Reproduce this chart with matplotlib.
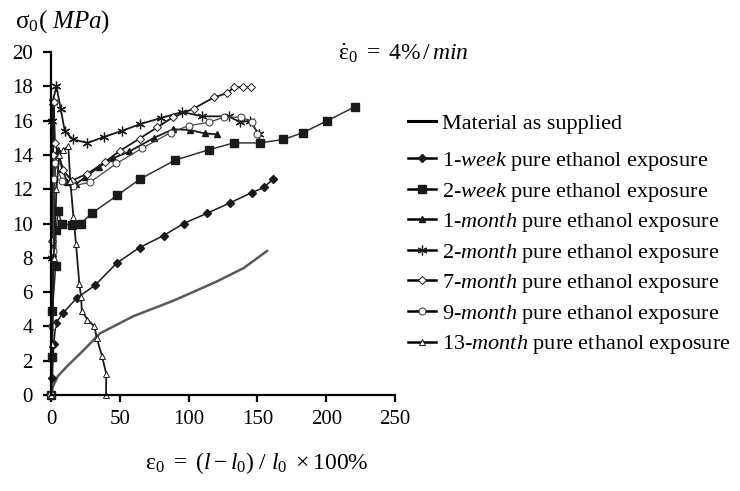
import matplotlib
matplotlib.use('Agg')
from matplotlib import pyplot as plt

plt.rcParams['font.family'] = ['Liberation Serif', 'DejaVu Serif']
plt.rcParams['mathtext.fontset'] = 'custom'
plt.rcParams['mathtext.rm'] = 'Liberation Serif'
plt.rcParams['mathtext.it'] = 'Liberation Serif:italic'
plt.rcParams['font.size'] = 15

# strain (%) / stress (MPa) readings for each exposure time
supplied_x = [0, 1.5, 5, 11.4, 23.5, 35.7, 60, 89, 120, 140, 157]
supplied_y = [0, 0.5, 1.1, 1.65, 2.6, 3.6, 4.6, 5.5, 6.6, 7.4, 8.4]

week1_x = [0, 1, 2, 3.6, 9, 18.7, 32, 47.9, 64.4, 81.9, 96.4, 113.5, 130, 145.8, 154.8, 161.3]
week1_y = [0, 1.0, 3.0, 4.2, 4.8, 5.65, 6.4, 7.7, 8.6, 9.3, 10.0, 10.6, 11.2, 11.8, 12.1, 12.6]

week2_x = [0, 1, 1, 3.4, 3.6, 5.3, 7.8, 15, 21.6, 29.7, 48.3, 64.9, 90.4, 114.7,
           132.9, 151.6, 168.9, 183.2, 200.9, 220.8]
week2_y = [0, 2.2, 4.9, 7.5, 9.6, 10.7, 10.0, 9.9, 10.0, 10.6, 11.65, 12.6, 13.7, 14.3,
           14.7, 14.7, 14.9, 15.3, 16.0, 16.8]

month1_x = [0, 1, 2, 3, 5, 8, 12, 18, 25, 35, 45, 57, 75, 89, 101, 112, 121]
month1_y = [0, 5, 10, 13.5, 14.3, 13.2, 12.4, 12.3, 12.7, 13.3, 13.8, 14.2, 15.0, 15.5,
            15.45, 15.25, 15.2]

month2_x = [0, 0.5, 1, 1.2, 4, 7, 10, 16, 26.5, 38.6, 51.5, 64.9, 79.8, 95.3, 110,
            129.2, 137.5, 144.5, 151]
month2_y = [0, 8, 16, 17.1, 18.0, 16.7, 15.4, 14.9, 14.7, 15.05, 15.4, 15.8, 16.15, 16.5,
            16.25, 16.25, 15.9, 16.0, 15.2]

month7_x = [0, 0.5, 1, 1.5, 2, 2.9, 9, 15, 26.5, 39.4, 50.3, 64.4, 77, 88.7, 103.7,
            118.3, 128, 132.9, 139.7, 145.5]
month7_y = [0, 4, 9, 14, 17.1, 14.7, 13.1, 12.5, 12.9, 13.6, 14.25, 14.95, 15.6, 16.2,
            16.7, 17.35, 17.6, 17.95, 17.95, 17.95]

month9_x = [0, 1, 1.7, 2.2, 2.9, 8, 16.3, 28.4, 47.6, 66.4, 87, 100, 114.7, 126, 138.3,
            146.3, 150]
month9_y = [0, 4.0, 8.4, 12.6, 13.5, 12.5, 12.2, 12.4, 13.5, 14.4, 15.3, 15.7, 15.9, 16.2,
            16.2, 15.9, 15.2]

month13_x = [0, 1, 2, 4, 6, 9, 12.6, 14, 16.3, 18.2, 20.6, 21.9, 22.4, 26.5, 31.6, 33.3,
             37, 40.1, 40]
month13_y = [0, 3, 8, 12, 14, 14.3, 14.5, 12.5, 10.4, 8.8, 6.5, 5.7, 4.9, 4.4, 4.0, 3.3,
             2.3, 1.25, 0]

x_ticks = [0, 50, 100, 150, 200, 250]
y_ticks = [0, 2, 4, 6, 8, 10, 12, 14, 16, 18, 20]

fig = plt.figure(figsize=(7.4, 4.91), dpi=100)
ax = fig.add_axes([0.0689, 0.1955, 0.4649, 0.6986])

ink = '#1a1a1a'
ax.plot(supplied_x, supplied_y, color='#5a5a5a', lw=1.8, label='Material as supplied')
ax.plot(week1_x, week1_y, color=ink, lw=1.1, marker='D', ms=4, mfc=ink, mec=ink,
        label='1-$\\mathit{week}$ pure ethanol exposure')
ax.plot(week2_x, week2_y, color='#333333', lw=1.1, marker='s', ms=5.5, mfc=ink, mec=ink,
        label='2-$\\mathit{week}$ pure ethanol exposure')
ax.plot(month1_x, month1_y, color=ink, lw=1.3, marker='^', ms=4.5, mfc=ink, mec=ink,
        label='1-$\\mathit{month}$ pure ethanol exposure')
ax.plot(month2_x, month2_y, color=ink, lw=1.3, marker=(6, 2, 0), ms=7, mec=ink, mew=0.9,
        label='2-$\\mathit{month}$ pure ethanol exposure')
ax.plot(month7_x, month7_y, color=ink, lw=1.3, marker='D', ms=4, mfc='white', mec=ink,
        mew=0.7, label='7-$\\mathit{month}$ pure ethanol exposure')
ax.plot(month9_x, month9_y, color='#444444', lw=0.9, marker='o', ms=5, mfc='white',
        mec='#333333', mew=0.7, label='9-$\\mathit{month}$ pure ethanol exposure')
ax.plot(month13_x, month13_y, color=ink, lw=1.3, marker='^', ms=4.5, mfc='white', mec=ink,
        mew=0.7, label='13-$\\mathit{month}$ pure ethanol exposure')

ax.set_xlim(0, 250)
ax.set_ylim(0, 20)
ax.set_xticks(x_ticks)
ax.set_yticks(y_ticks)
for side in ['top', 'right']:
    ax.spines[side].set_visible(False)
for side in ['left', 'bottom']:
    ax.spines[side].set_linewidth(1.6)
    ax.spines[side].set_color('black')
ax.tick_params(axis='y', direction='out', length=6, width=1.6, pad=7, labelsize=15)
ax.tick_params(axis='x', direction='out', length=5, width=1.6, pad=6, labelsize=15)
for line in ax.get_lines():
    line.set_clip_on(False)

fig.text(15 / 740, 1 - 22 / 491, '$\\mathrm{σ}_0$$\\mathit{(\\ MPa)}$', fontsize=18,
         va='center', ha='left')
fig.text(257 / 740, 1 - 463 / 491,
         '$\\mathrm{ε}_0\\ =\\ (\\mathit{l} - \\mathit{l}_0)\\ /\\ \\mathit{l}_0\\ \\times 100\\%$',
         fontsize=17, va='center', ha='center')
fig.text(338 / 740, 1 - 53 / 491,
         '$\\dot{\\mathrm{ε}}_0\\ =\\ 4\\%\\,/\\,\\mathit{min}$', fontsize=17,
         va='center', ha='left')

# the as-supplied entry sits a little apart from the exposure entries
handles, labels = ax.get_legend_handles_labels()
leg_kw = dict(loc='upper left', frameon=False, fontsize=16, handlelength=1.25,
              handletextpad=0.3, labelspacing=0.34, borderaxespad=0, borderpad=0)
top_leg = fig.legend(handles[:1], labels[:1], bbox_to_anchor=(408 / 740, 1 - 113 / 491),
                     **leg_kw)
for h in top_leg.legend_handles:
    h.set_color('black')
    h.set_linewidth(2.2)
low_leg = fig.legend(handles[1:], labels[1:], bbox_to_anchor=(408 / 740, 1 - 150 / 491),
                     **leg_kw)
for h in low_leg.legend_handles:
    h.set_linewidth(1.8)
    h.set_color('black')

plt.savefig('out.png', dpi=100)
